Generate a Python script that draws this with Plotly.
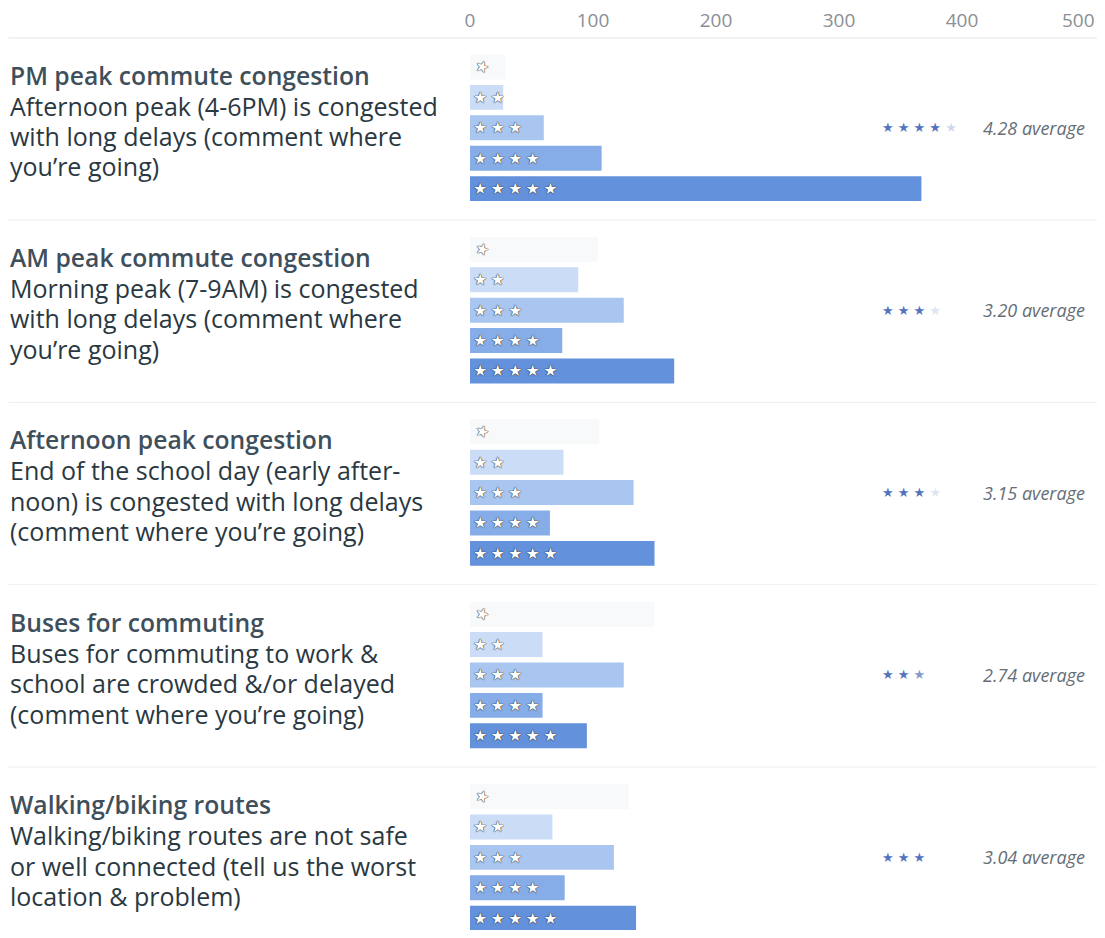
import plotly.graph_objects as go

# ---------------- data ----------------
titles = [
    "PM peak commute congestion",
    "AM peak commute congestion",
    "Afternoon peak congestion",
    "Buses for commuting",
    "Walking/biking routes",
]
descriptions = [
    ["Afternoon peak (4-6PM) is congested", "with long delays (comment where", "you’re going)"],
    ["Morning peak (7-9AM) is congested", "with long delays (comment where", "you’re going)"],
    ["End of the school day (early after-", "noon) is congested with long delays", "(comment where you’re going)"],
    ["Buses for commuting to work &", "school are crowded &/or delayed", "(comment where you’re going)"],
    ["Walking/biking routes are not safe", "or well connected (tell us the worst", "location & problem)"],
]
ratings = [1, 2, 3, 4, 5]
# counts per rating (rows = questions, cols = 1..5 stars)
counts_1star = [29, 104, 105, 150, 129]
counts_2star = [27, 88, 76, 59, 67]
counts_3star = [60, 125, 133, 125, 117]
counts_4star = [107, 75, 65, 59, 77]
counts_5star = [367, 166, 150, 95, 135]
averages = [4.28, 3.20, 3.15, 2.74, 3.04]
x_ticks = [0, 100, 200, 300, 400, 500]

series = [counts_1star, counts_2star, counts_3star, counts_4star, counts_5star]
bar_colors = ["#f8f9fb", "#cadcf6", "#a9c6f1", "#87ade8", "#6391dc"]

GROUP_STEP = 6  # rows per question block (5 bars + gap)

fig = go.Figure()
for r, vals, col in zip(ratings, series, bar_colors):
    ys = [g * GROUP_STEP + (r - 1) for g in range(len(titles))]
    fig.add_trace(go.Bar(
        x=vals, y=ys, orientation="h",
        marker=dict(color=col, line=dict(width=0)),
        width=0.82,
        text=["\u2009".join(["★"] * r)] * len(vals),
        textposition="inside",
        insidetextanchor="start",
        constraintext="none",
        textfont=dict(family="DejaVu Sans", size=16, color="#ffffff",
                      shadow="0px 0px 1px #111, 0px 0px 1px #111"),
        cliponaxis=False,
        hoverinfo="x",
        showlegend=False,
    ))

LEFT = -0.751
annotations = []
shapes = []
for g, (t, desc, avg) in enumerate(zip(titles, descriptions, averages)):
    base = g * GROUP_STEP
    annotations.append(dict(
        x=LEFT, xref="paper", y=base + 0.27, yref="y",
        text=t, showarrow=False, xanchor="left", yanchor="middle",
        font=dict(family="Open Sans", size=24.7, color="#3f4f5b", weight=600),
    ))
    for k, line in enumerate(desc):
        annotations.append(dict(
            x=LEFT, xref="paper", y=base + 1.27 + k, yref="y",
            text=line, showarrow=False, xanchor="left", yanchor="middle",
            font=dict(family="Open Sans", size=25, color="#2a3842"),
        ))
    full = int(avg)
    frac = avg - full
    star_txt = "★ " * full
    if frac > 0.05:
        star_txt += "<span style='color:rgba(84,114,190,%.2f)'>★</span>" % max(frac, 0.2)
    annotations.append(dict(
        x=0.666, xref="paper", y=base + 2, yref="y",
        text=star_txt.strip(), showarrow=False, xanchor="left", yanchor="middle",
        font=dict(family="DejaVu Sans", size=13, color="#5472be"),
    ))
    annotations.append(dict(
        x=1.003, xref="paper", y=base + 2, yref="y",
        text="<i>%.2f average</i>" % avg, showarrow=False, xanchor="right", yanchor="middle",
        font=dict(family="Open Sans", size=18, color="#666d74"),
    ))
    if g < len(titles) - 1:
        shapes.append(dict(
            type="line", xref="paper", yref="y",
            x0=LEFT, x1=1.02, y0=base + 5.03, y1=base + 5.03,
            line=dict(color="#eeeeee", width=1),
        ))

shapes.append(dict(
    type="line", xref="paper", yref="paper",
    x0=LEFT, x1=1.02, y0=1, y1=1,
    line=dict(color="#e6e6e6", width=1),
))

# last tick label drawn as an annotation so it can sit inside the visible frame
tick_font = dict(family="Open Sans", size=19, color="#8a8f94")
annotations.append(dict(
    x=x_ticks[-1], xref="x", y=1, yref="paper", yanchor="bottom",
    yshift=3, xshift=-7, text=str(x_ticks[-1]), showarrow=False,
    xanchor="center", font=tick_font,
))

# page has an 8px body margin: size the figure so it lines up with a 1105x938 frame
fig.update_layout(
    width=1089, height=922,
    margin=dict(l=462, r=12, t=30, b=0),
    paper_bgcolor="white", plot_bgcolor="white",
    barmode="overlay",
    xaxis=dict(
        side="top", range=[0, 500], tickvals=x_ticks[:-1],
        showgrid=False, zeroline=False, showline=False, ticks="",
        tickfont=tick_font,
        ticklabelstandoff=6,
        fixedrange=True,
    ),
    yaxis=dict(
        range=[28.39, -0.954], showticklabels=False, showgrid=False,
        zeroline=False, showline=False, ticks="", fixedrange=True,
    ),
    annotations=annotations,
    shapes=shapes,
)

fig.write_html("out.html")
